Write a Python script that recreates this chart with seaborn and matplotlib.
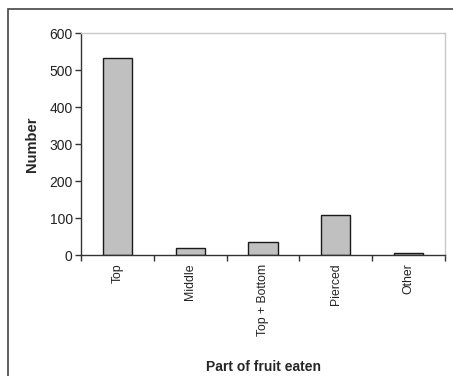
import numpy as np
import pandas as pd
import seaborn as sns
import matplotlib.pyplot as plt
from matplotlib.patches import Rectangle

parts = ["Top", "Middle", "Top + Bottom", "Pierced", "Other"]
counts = [532, 20, 36, 110, 7]

sns.set_style("white")
plt.rcParams['font.family'] = ['Liberation Sans', 'DejaVu Sans']

fig = plt.figure(figsize=(4.53, 3.76), dpi=100)
ax = fig.add_axes([81 / 453, 1 - 255.3 / 376, 364 / 453, 222 / 376])

df = pd.DataFrame({'part': parts, 'count': counts})
sns.barplot(data=df, x='part', y='count', ax=ax, color='#c0c0c0',
            edgecolor='#1a1a1a', linewidth=1.0, width=0.4, saturation=1)

ax.set_xlim(-0.5, len(parts) - 0.5)
ax.set_ylim(0, 600)
ax.set_yticks(np.arange(0, 601, 100))

# category boundary ticks like Excel
ax.set_xticks(np.arange(-0.5, len(parts), 1.0), minor=True)
ax.tick_params(axis='x', which='major', length=0, labelsize=8.8, rotation=90, pad=6, colors='#222222')
ax.tick_params(axis='x', which='minor', length=4, width=1, color='#333333', direction='out')
ax.tick_params(axis='y', which='major', length=4, width=1, color='#333333', direction='out',
               labelsize=10, pad=2, labelcolor='#222222')
ax.tick_params(left=True, bottom=True)
ax.xaxis.set_tick_params(which='minor', bottom=True)

for s in ['left', 'bottom']:
    ax.spines[s].set_color('#333333')
    ax.spines[s].set_linewidth(1)
for s in ['top', 'right']:
    ax.spines[s].set_color('#c8c8c8')
    ax.spines[s].set_linewidth(1)

ax.set_xlabel('Part of fruit eaten', fontsize=10, fontweight='bold')
ax.set_ylabel('Number', fontsize=10.5, fontweight='bold')
ax.xaxis.set_label_coords(0.5, -0.47)
ax.yaxis.set_label_coords(-0.115, 0.5)

# outer chart frame, cut off at right and bottom
frame = Rectangle((8 / 453, -0.1), 1.2, 1 - 9 / 376 + 0.1, transform=fig.transFigure,
                  fill=False, edgecolor='#444444', linewidth=1.2)
fig.patches.append(frame)

fig.savefig('out.png', dpi=100)
